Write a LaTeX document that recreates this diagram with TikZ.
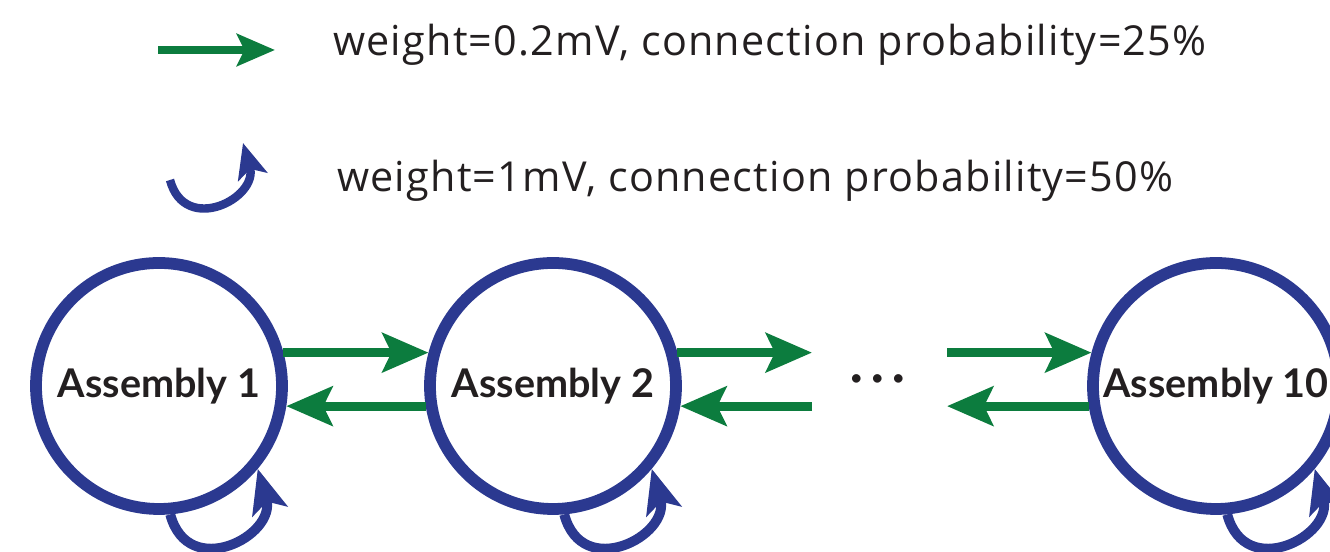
\documentclass[tikz,border=0pt]{standalone}
\usepackage{fontspec}
\setmainfont{Open Sans}
\newfontfamily\legfont{Open Sans}[LetterSpace=3]
\newfontfamily\asmfont{Lato}
\usetikzlibrary{arrows.meta}
\definecolor{asmblue}{RGB}{43,57,144}
\definecolor{wgreen}{RGB}{12,124,62}
\definecolor{txtblack}{RGB}{35,31,32}
\begin{document}
\begin{tikzpicture}[
	assembly/.style={circle,draw=asmblue,line width=6.7pt,minimum size=4.92cm,inner sep=0pt,text=txtblack,font=\asmfont\bfseries\fontsize{22.5}{27}\selectfont},
	ff/.style={wgreen,line width=5.2pt,-{Stealth[length=0.92cm,width=0.78cm,inset=0.18cm]}},
	rec/.style={asmblue,line width=5.6pt,-{Stealth[length=0.88cm,width=0.72cm,inset=0.2cm]}},
	legtext/.style={anchor=base west,text=txtblack,font=\legfont\fontsize{23.5}{28}\selectfont}]
	\clip (0,0) rectangle (26.6,11.04);
	%legende
	\coordinate (ffa) at (3.16,10.04);
	\coordinate (ffb) at (5.5,10.04);
	\coordinate (reca) at (3.4,7.44);
	\coordinate (recb) at (4.86,8.18);
	\draw[ff,line width=4.7pt,-{Stealth[length=0.76cm,width=0.64cm,inset=0.15cm]}] (ffa)--(ffb);
	\draw[rec,line width=4.8pt,-{Stealth[length=0.7cm,width=0.6cm,inset=0.16cm]}] (reca) to[out=285,in=286,looseness=1.8] (recb);
	\node[legtext] (leg1) at (6.54,9.92) {weight=0.2mV, connection probability=25\%};
	\node[legtext] (leg2) at (6.62,7.2) {weight=1mV, connection probability=50\%};
	%assemblies
	\node[assembly] (a1) at (3.18,3.32) {Assembly 1};
	\node[assembly] (a2) at (11.06,3.32) {Assembly 2};
	\node[assembly] (a3) at (24.32,3.32) {Assembly 10};
	\node[anchor=base,text=txtblack,font=\asmfont\bfseries\fontsize{26}{30}\selectfont] (gapdots) at (17.56,3.18) {·\hspace{4.8pt}·\hspace{4.8pt}·};
	\coordinate (gapl) at (16.24,3.32);
	\coordinate (gapr) at (18.94,3.32);
	\draw[ff] (a1.15)--(a2.165);
	\draw[ff] (a2.189)--(a1.-9);
	\draw[ff] (a2.15)--(a2.15 -| gapl);
	\draw[ff] (a2.-9 -| gapl)--(a2.-9);
	\draw[ff] (a3.165 -| gapr)--(a3.165);
	\draw[ff] (a3.189)--(a3.189 -| gapr);
	\foreach \n in {a1,a2,a3}
	\draw[rec] (\n.275) to[out=285,in=286,looseness=1.8] (\n.320);
\end{tikzpicture}
\end{document}
